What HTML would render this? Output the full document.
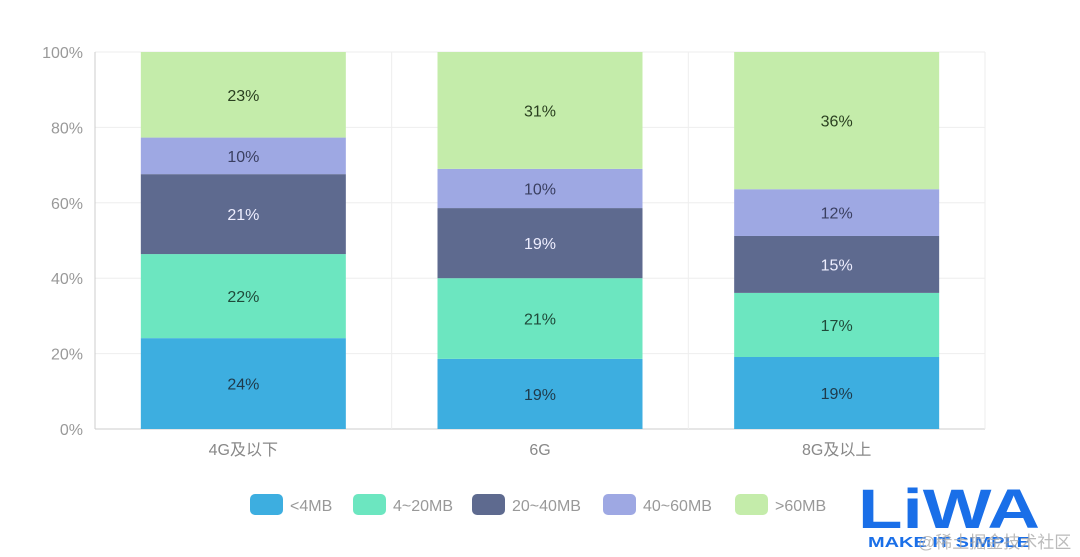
<!DOCTYPE html>
<html><head><meta charset="utf-8"><style>
html,body{margin:0;padding:0;background:#fff;width:1080px;height:557px;overflow:hidden}
svg{display:block;font-family:"Liberation Sans","Noto Sans CJK SC",sans-serif}
</style></head><body>
<svg id="chart" width="1080" height="557"></svg>
<script>
const categories=["4G及以下","6G","8G及以上"];
const seriesNames=["<4MB","4~20MB","20~40MB","40~60MB",">60MB"];
const s1=[24.1,18.6,19.1];
const s2=[22.3,21.4,17.0];
const s3=[21.2,18.6,15.1];
const s4=[9.7,10.4,12.4];
const s5=[22.7,31.0,36.4];
const yTicks=[0,20,40,60,80,100];
const series=[s1,s2,s3,s4,s5];
const colors=["#3daee0","#6ce6c0","#5e6a8f","#9ea8e3","#c4ecaa"];
const textColors=["#1f3a4a","#1f4a3a","#eef","#3a3f60","#2a3f20"];
const NS="http://www.w3.org/2000/svg";
const svg=document.getElementById('chart');
const X0=95,X1=985,Y0=429,Y1=52;
const band=(X1-X0)/categories.length, bw=205;
const y=v=>Y0-(v/100)*(Y0-Y1);
const xc=i=>X0+band*(i+0.5);
function el(t,a,p){const e=document.createElementNS(NS,t);for(const k in a)e.setAttribute(k,a[k]);(p||svg).appendChild(e);return e;}
yTicks.forEach(t=>{
 const g=el('line',{x1:X0,x2:X1,y1:y(t),y2:y(t),stroke:t===0?'#ccc':'#eee','stroke-width':1});
 
 
 const l=el('text',{x:X0-12,y:y(t)+6,'text-anchor':'end','font-size':16,fill:'#999'});
 l.textContent=t+'%';
 
 
});
for(let i=0;i<=categories.length;i++){
 const v=el('line',{x1:X0+band*i,x2:X0+band*i,y1:Y1,y2:Y0,stroke:i===0?'#ccc':'#eee'});
 
 
}
categories.forEach((c,i)=>{
 let cum=0;
 series.forEach((s,k)=>{
  const v=s[i];
  const r=el('rect',{x:xc(i)-bw/2,y:y(cum+v),width:bw,height:y(cum)-y(cum+v),fill:colors[k]});
  
  
  const t=el('text',{x:xc(i),y:(y(cum)+y(cum+v))/2+6,'text-anchor':'middle','font-size':16,fill:textColors[k]});
  t.textContent=Math.round(v)+'%';
  
  
  cum+=v;
 });
 const xl=el('text',{x:xc(i),y:455,'text-anchor':'middle','font-size':16,fill:'#888'});
 xl.textContent=c;
 
 
});
const legX=[250,353,472,603,735];
seriesNames.forEach((n,k)=>{
 const r=el('rect',{x:legX[k],y:494,width:33,height:21,rx:5,fill:colors[k]});
 
 
 const t=el('text',{x:legX[k]+40,y:511,'font-size':16,fill:'#999'});
 t.textContent=n;
 
 
});
const logo=el('text',{x:858,y:528,'font-size':56,'font-weight':'bold',fill:'#1a6fe8',textLength:182,lengthAdjust:'spacingAndGlyphs'});
logo.textContent='LiWA';


const tag=el('text',{x:868,y:547,'font-size':15,'font-weight':'bold',fill:'#1a6fe8',textLength:162,lengthAdjust:'spacingAndGlyphs'});
tag.textContent='MAKE IT SIMPLE';


const wm=el('text',{x:918,y:548,'font-size':17,fill:'#aaa','fill-opacity':0.8});
wm.textContent='@稀土掘金技术社区';


</script>
</body></html>
